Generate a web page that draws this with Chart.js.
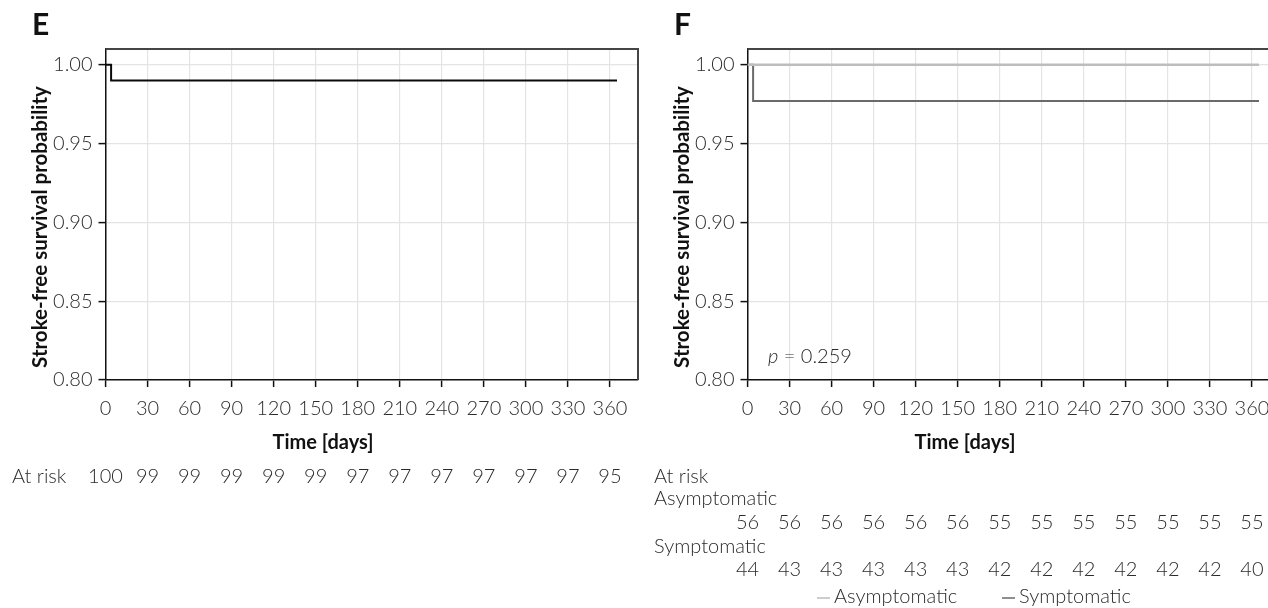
<!DOCTYPE html>
<html>
<head>
<meta charset="utf-8">
<script src="https://cdn.jsdelivr.net/npm/chart.js@4.4.1/dist/chart.umd.min.js"></script>
<style>
    html, body { margin: 0; padding: 0; background: #fff; overflow: hidden; }
    body { width: 1268px; height: 608px; position: relative; }
    canvas { position: absolute; top: 0; }
    #panelE { left: 0; }
    #panelF { left: 642px; }
</style>
</head>
<body>
<canvas id="panelE" width="640" height="608"></canvas>
<canvas id="panelF" width="640" height="608"></canvas>
<script>
const fuente = "Lato";
const colorTexto = "#2b2b2b";
const colorGrid = "#e4e4e4";
const colorEje = "#111";

// escalas
const xTicks = [0, 30, 60, 90, 120, 150, 180, 210, 240, 270, 300, 330, 360];
const yTicks = [0.80, 0.85, 0.90, 0.95, 1.00];
const yTickLabels = ["0.80", "0.85", "0.90", "0.95", "1.00"];

// panel E
const tiemposE = [0, 4, 365];
const supervivenciaE = [1.00, 0.99, 0.99];
const enRiesgoE = [100, 99, 99, 99, 99, 99, 97, 97, 97, 97, 97, 97, 95];

// panel F
const tiemposAsintomaticos = [0, 365];
const supervivenciaAsintomaticos = [1.00, 1.00];
const tiemposSintomaticos = [0, 4, 365];
const supervivenciaSintomaticos = [1.00, 0.977, 0.977];
const enRiesgoAsintomaticos = [56, 56, 56, 56, 56, 56, 55, 55, 55, 55, 55, 55, 55];
const enRiesgoSintomaticos = [44, 43, 43, 43, 43, 43, 42, 42, 42, 42, 42, 42, 40];

const colores = {
    negro: "#0a0a0a",
    asintomatico: "#bdbdbd",
    sintomatico: "#6a6a6a",
    marco: "#454545"
};

function puntos(tiempos, valores) {
    return tiempos.map((t, i) => ({ x: t, y: valores[i] }));
}

function fuenteTexto(tamano, peso, estilo) {
    return `${estilo || ""} ${peso} ${tamano}px ${fuente}`.trim();
}

const textosPanel = {
    id: "textosPanel",
    afterDraw(chart, args, opts) {
        const ctx = chart.ctx;
        const area = chart.chartArea;
        const x = chart.scales.x;
        ctx.save();

        // marco superior y derecho
        ctx.strokeStyle = colores.marco;
        ctx.lineWidth = 2;
        ctx.beginPath();
        ctx.moveTo(area.left, area.top);
        ctx.lineTo(area.right, area.top);
        ctx.lineTo(area.right, area.bottom);
        ctx.stroke();

        ctx.fillStyle = "#111";
        ctx.textBaseline = "middle";

        // letra del panel
        ctx.font = fuenteTexto(30, 700);
        ctx.textAlign = "left";
        ctx.fillText(opts.letra, 32, 25);

        // titulo eje y
        ctx.save();
        ctx.translate(40, 227);
        ctx.rotate(-Math.PI / 2);
        ctx.font = fuenteTexto(20.5, 700);
        ctx.textAlign = "center";
        ctx.fillText("Stroke-free survival probability", 0, 0);
        ctx.restore();

        // titulo eje x
        ctx.font = fuenteTexto(20, 700);
        ctx.textAlign = "center";
        ctx.fillText("Time [days]", area.left + 217.5, 443);

        // tabla at risk
        ctx.fillStyle = colorTexto;
        ctx.font = fuenteTexto(20, 300);
        opts.filas.forEach(fila => {
            if (fila.etiqueta) {
                ctx.textAlign = "left";
                ctx.fillText(fila.etiqueta, 12, fila.y);
            }
            if (fila.valores) {
                ctx.textAlign = "center";
                fila.valores.forEach((v, i) => {
                    ctx.fillText(String(v), x.getPixelForValue(xTicks[i]), fila.y);
                });
            }
        });

        // valor p
        if (opts.p) {
            ctx.textAlign = "left";
            ctx.font = fuenteTexto(20, 300, "italic");
            ctx.fillText("p", 126, 357);
            const ancho = ctx.measureText("p").width;
            ctx.font = fuenteTexto(20, 300);
            ctx.fillText(" = " + opts.p, 126 + ancho, 357);
        }

        // leyenda
        if (opts.leyenda) {
            ctx.font = fuenteTexto(20, 300);
            ctx.textAlign = "left";
            opts.leyenda.forEach(item => {
                ctx.strokeStyle = item.color;
                ctx.lineWidth = 1.5;
                ctx.beginPath();
                ctx.moveTo(item.x, 598);
                ctx.lineTo(item.x + 13, 598);
                ctx.stroke();
                ctx.fillStyle = colorTexto;
                ctx.fillText(item.texto, item.x + 17, 597);
            });
        }
        ctx.restore();
    }
};

function opcionesPanel(textos) {
    const fuenteTicks = { family: fuente, size: 20, weight: 300 };
    return {
        responsive: false,
        animation: false,
        devicePixelRatio: 1,
        layout: { padding: { top: 49, left: 0, right: 2, bottom: 0 } },
        plugins: {
            legend: { display: false },
            tooltip: { enabled: false },
            textosPanel: textos
        },
        elements: { point: { radius: 0 } },
        scales: {
            x: {
                type: "linear",
                min: 0,
                max: 380,
                afterBuildTicks: escala => { escala.ticks = xTicks.map(v => ({ value: v })); },
                afterFit: escala => { escala.height = 608 - 380; },
                ticks: { font: fuenteTicks, color: colorTexto, padding: 10, maxRotation: 0, autoSkip: false },
                grid: { color: colorGrid, lineWidth: 1.2, tickColor: colorEje, tickLength: 7, tickWidth: 1.5 },
                border: { color: colorEje, width: 1.5 }
            },
            y: {
                type: "linear",
                min: 0.80,
                max: 1.01,
                afterBuildTicks: escala => { escala.ticks = yTicks.map(v => ({ value: v })); },
                afterFit: escala => { escala.width = 105.5; },
                ticks: {
                    font: fuenteTicks,
                    color: colorTexto,
                    padding: 6,
                    callback: valor => yTickLabels[yTicks.findIndex(t => Math.abs(t - valor) < 1e-6)]
                },
                grid: { color: colorGrid, lineWidth: 1.2, tickColor: colorEje, tickLength: 7, tickWidth: 1.5 },
                border: { color: colorEje, width: 1.5 }
            }
        }
    };
}

new Chart(document.getElementById("panelE"), {
    type: "line",
    data: {
        datasets: [{
            label: "All",
            data: puntos(tiemposE, supervivenciaE),
            borderColor: colores.negro,
            borderWidth: 2,
            stepped: true
        }]
    },
    options: opcionesPanel({
        letra: "E",
        filas: [{ etiqueta: "At risk", valores: enRiesgoE, y: 477 }]
    }),
    plugins: [textosPanel]
});

new Chart(document.getElementById("panelF"), {
    type: "line",
    data: {
        datasets: [{
            label: "Asymptomatic",
            data: puntos(tiemposAsintomaticos, supervivenciaAsintomaticos),
            borderColor: colores.asintomatico,
            borderWidth: 2.5,
            stepped: true
        }, {
            label: "Symptomatic",
            data: puntos(tiemposSintomaticos, supervivenciaSintomaticos),
            borderColor: colores.sintomatico,
            borderWidth: 2,
            stepped: true
        }]
    },
    options: opcionesPanel({
        letra: "F",
        p: "0.259",
        filas: [
            { etiqueta: "At risk", y: 477 },
            { etiqueta: "Asymptomatic", y: 499 },
            { valores: enRiesgoAsintomaticos, y: 523 },
            { etiqueta: "Symptomatic", y: 547 },
            { valores: enRiesgoSintomaticos, y: 570 }
        ],
        leyenda: [
            { texto: "Asymptomatic", color: colores.asintomatico, x: 175 },
            { texto: "Symptomatic", color: colores.sintomatico, x: 360 }
        ]
    }),
    plugins: [textosPanel]
});
</script>
</body>
</html>
